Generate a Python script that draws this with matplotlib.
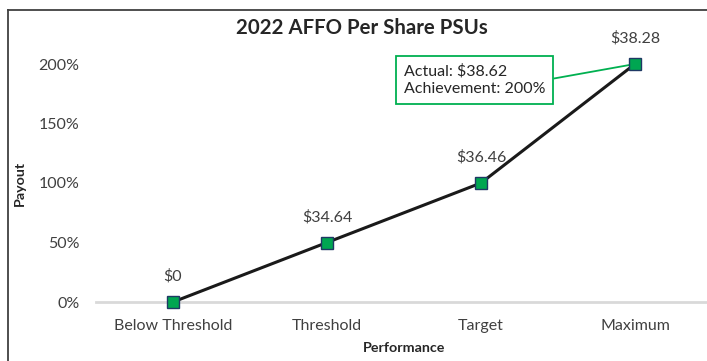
import matplotlib
matplotlib.use("Agg")
import matplotlib.pyplot as plt
from matplotlib.lines import Line2D

plt.rcParams['font.family'] = ['Lato', 'DejaVu Sans']

categories = ["Below Threshold", "Threshold", "Target", "Maximum"]
payout = [0.0, 0.5, 1.0, 2.0]
price_labels = ["$0", "$34.64", "$36.46", "$38.28"]
yticks = [0.0, 0.5, 1.0, 1.5, 2.0]
ytick_labels = ["0%", "50%", "100%", "150%", "200%"]
actual_text = "Actual: $38.62\nAchievement: 200%"

W, H = 707, 361
fig = plt.figure(figsize=(W / 100, H / 100), dpi=100)

# outer chart frame (runs past the right and bottom edges)
fig.add_artist(Line2D([8 / W, 8 / W], [-0.1, 1 - 10 / H], transform=fig.transFigure,
                      color="#404040", lw=1.3))
fig.add_artist(Line2D([8 / W, 1.1], [1 - 10 / H, 1 - 10 / H], transform=fig.transFigure,
                      color="#404040", lw=1.3))

ax = fig.add_axes([96 / W, 1 - 302 / H, 616 / W, 238 / H])
x = list(range(len(categories)))
ax.set_xlim(-0.5, len(categories) - 0.5)
ax.set_ylim(0, 2.0)

ax.axhline(0, color="#d9d9d9", lw=2, zorder=1, clip_on=False)
ax.plot(x, payout, color="#1a1a1a", lw=2.2, zorder=3, clip_on=False,
        marker="s", markersize=9, markerfacecolor="#00a651",
        markeredgecolor="#1f3864", markeredgewidth=1.0)

for xi, yi, lab in zip(x, payout, price_labels):
    ax.annotate(lab, (xi, yi), xytext=(0, 13), textcoords="offset points",
                ha="center", va="bottom", fontsize=11.5, color="#404040")

ax.annotate(actual_text, xy=(x[-1], payout[-1]), xytext=(404, 281),
            textcoords="figure pixels", ha="left", va="center",
            fontsize=11.5, color="#262626", linespacing=1.3,
            bbox=dict(boxstyle="square,pad=0.5", fc="white", ec="#00b050", lw=1.3),
            arrowprops=dict(arrowstyle="-", color="#00b050", lw=1.3,
                            relpos=(1, 0.5), shrinkA=0, shrinkB=4),
            zorder=2)

for s in ax.spines.values():
    s.set_visible(False)
ax.set_xticks(x)
ax.set_xticklabels(categories, fontsize=11.5, color="#404040")
ax.set_yticks(yticks)
ax.set_yticklabels(ytick_labels, fontsize=11.5, color="#404040")
ax.tick_params(length=0)
ax.tick_params(axis="x", pad=12)
ax.tick_params(axis="y", pad=12)

ax.set_xlabel("Performance", fontsize=10.3, fontweight="bold", color="#262626", labelpad=7)
fig.text(20 / W, 1 - 183 / H, "Payout", rotation=90, ha="center", va="center",
         fontsize=10.3, fontweight="bold", color="#262626")
fig.text(362 / W, 1 - 28 / H, "2022 AFFO Per Share PSUs", ha="center", va="center",
         fontsize=14.7, fontweight="bold", color="#262626")

fig.savefig("out.png", dpi=100)
